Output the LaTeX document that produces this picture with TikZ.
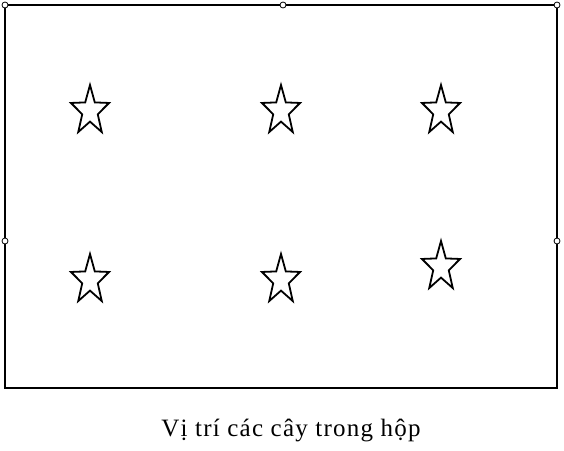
\documentclass[tikz,border=0pt]{standalone}
\usepackage{fontspec}
\setmainfont{Liberation Serif}
\newfontfamily\capfont[LetterSpace=5]{Liberation Serif}
\usetikzlibrary{shapes.geometric}
\newcommand{\capsize}{\capfont\fontsize{25}{28}\selectfont}
\tikzset{
  frame/.style={draw=black, line width=1.6pt},
  handle/.style={draw=black, fill=white, line width=0.8pt},
  tree/.style={
    star, star points=5, star point ratio=2.45, draw=black, line width=1.8pt,
    minimum size=40pt, inner sep=0pt, yscale=1.3
  },
  caption/.style={font=\capsize, anchor=base, inner sep=0pt}
}
\begin{document}
\begin{tikzpicture}[x=1pt,y=-1pt]
        \useasboundingbox (0,0) rectangle (564,450);
        \draw[frame] (5,5) rectangle (557,388);
        % handles on the frame
        \foreach \hx/\hy in {5/5,283/5,557/5,5/241,557/241}
          \draw[handle] (\hx,\hy) circle (3);
        \node[tree] (t1) at (90,111) {};
        \node[tree] (t2) at (281,111) {};
        \node[tree] (t3) at (441,111) {};
        \node[tree] (t4) at (90,280) {};
        \node[tree] (t5) at (281,280) {};
        \node[tree] (t6) at (441,267) {};
        \node[caption] (cap) at (291,436) {Vị trí các cây trong hộp};
      \end{tikzpicture}
\end{document}
